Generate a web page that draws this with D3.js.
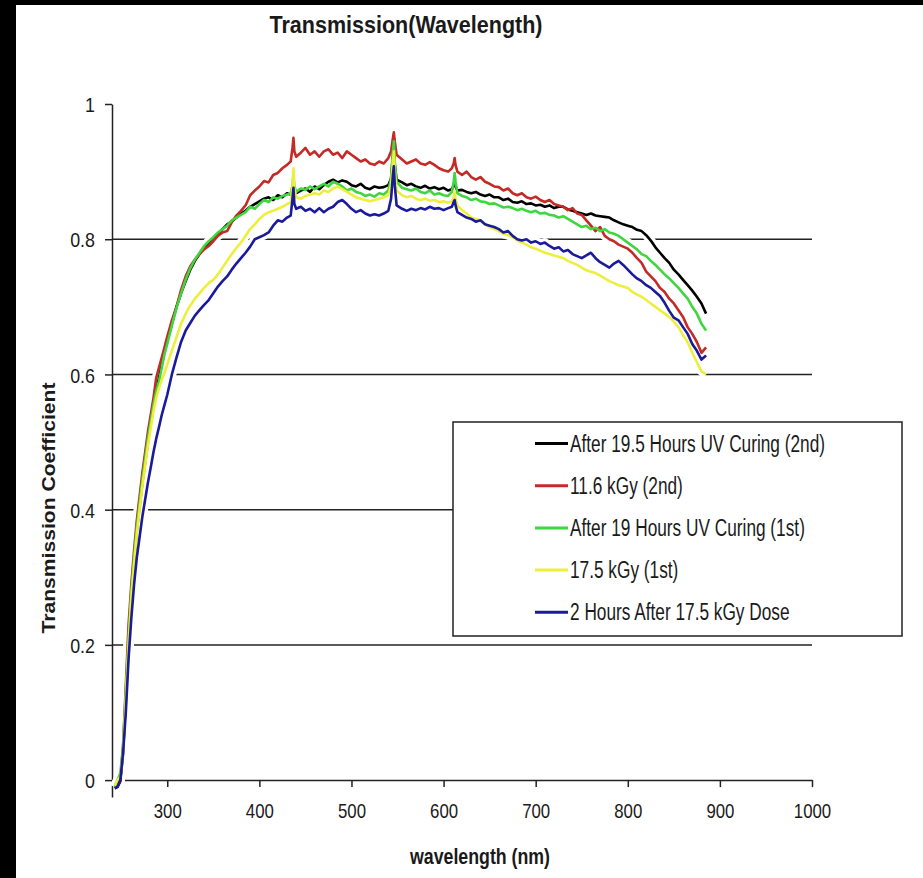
<!DOCTYPE html>
<html>
<head>
<meta charset="utf-8">
<script src="https://cdn.jsdelivr.net/npm/d3@7"></script>
<style>
  body { margin: 0; background: #000; }
  svg { display: block; }
  text { font-family: "Liberation Sans", Arial, sans-serif; fill: #1a1a1a; }
</style>
</head>
<body>
<div id="chart"></div>
<script>
// wavelength grid (nm), shared by every series
var wavelengths = [
  243,246,249,252,255,258,261,264,267,270,273,276,279,282,285,288,291,294,297,300,
  305,310,315,320,325,330,335,340,345,350,355,360,365,370,375,380,385,390,395,400,405,410,415,420,425,430,
  434,436,437,438,440,445,450,455,460,465,470,475,480,485,490,495,500,505,510,515,520,525,530,535,540,
  543,545,546,547,549,555,560,565,570,575,580,585,590,595,600,605,
  609,611,612,613,615,
  620,625,630,635,640,645,650,655,660,665,670,675,680,685,690,695,700,705,710,715,720,725,730,735,740,745,
  750,755,760,765,770,775,780,785,790,795,800,805,810,815,820,825,830,835,840,845,850,855,860,865,870,875,880,885
];

var uvCuring2nd = [
  -0.012,-0.01,-0.002,0.04,0.12,0.2,0.27,0.325,0.37,0.405,0.44,0.47,0.5,0.53,0.555,0.575,0.595,0.615,0.635,0.65,
  0.675,0.7,0.72,0.738,0.755,0.768,0.778,0.787,0.795,0.802,0.808,0.815,0.822,0.826,0.832,0.838,0.842,0.848,0.852,0.856,0.86,0.862,0.858,0.865,0.862,0.868,
  0.866,0.875,0.885,0.872,0.868,0.872,0.875,0.87,0.878,0.874,0.88,0.885,0.888,0.884,0.887,0.885,0.88,0.878,0.882,0.876,0.874,0.878,0.876,0.877,0.88,
  0.89,0.925,0.94,0.91,0.888,0.884,0.88,0.882,0.878,0.876,0.879,0.875,0.877,0.874,0.876,0.872,
  0.874,0.88,0.885,0.878,0.872,
  0.873,0.87,0.868,0.87,0.866,0.864,0.866,0.862,0.862,0.858,0.86,0.855,0.854,0.856,0.852,0.853,0.85,0.851,0.848,0.85,0.846,0.848,0.848,0.844,0.842,0.84,
  0.838,0.836,0.838,0.835,0.834,0.833,0.832,0.828,0.825,0.822,0.82,0.818,0.814,0.812,0.806,0.798,0.788,0.78,0.772,0.765,0.755,0.748,0.74,0.732,0.724,0.715,0.705,0.69
];

var kGy116_2nd = [
  -0.01,-0.008,0.0,0.05,0.14,0.23,0.29,0.34,0.385,0.42,0.455,0.485,0.515,0.54,0.565,0.595,0.61,0.625,0.64,0.656,
  0.68,0.7,0.725,0.745,0.76,0.77,0.778,0.785,0.79,0.797,0.805,0.81,0.812,0.825,0.835,0.842,0.85,0.865,0.872,0.878,0.886,0.884,0.895,0.898,0.905,0.91,
  0.915,0.935,0.95,0.93,0.922,0.928,0.935,0.925,0.93,0.922,0.93,0.933,0.925,0.928,0.92,0.93,0.925,0.92,0.915,0.918,0.912,0.91,0.915,0.912,0.92,
  0.93,0.95,0.958,0.945,0.925,0.918,0.912,0.915,0.918,0.912,0.91,0.914,0.91,0.905,0.902,0.9,
  0.905,0.912,0.92,0.91,0.9,
  0.895,0.9,0.892,0.888,0.892,0.885,0.882,0.878,0.877,0.872,0.875,0.868,0.865,0.868,0.862,0.86,0.863,0.858,0.855,0.858,0.852,0.85,0.848,0.843,0.846,0.838,
  0.836,0.828,0.82,0.812,0.818,0.805,0.8,0.797,0.792,0.789,0.786,0.78,0.772,0.765,0.752,0.745,0.738,0.728,0.722,0.712,0.705,0.695,0.685,0.67,0.66,0.648,0.632,0.64
];

var uvCuring1st = [
  -0.01,0.0,0.01,0.05,0.13,0.21,0.28,0.33,0.375,0.41,0.445,0.475,0.505,0.53,0.555,0.575,0.59,0.61,0.63,0.645,
  0.672,0.698,0.72,0.74,0.757,0.77,0.78,0.79,0.797,0.803,0.81,0.815,0.82,0.828,0.832,0.836,0.84,0.848,0.845,0.852,0.858,0.855,0.862,0.86,0.864,0.866,
  0.868,0.88,0.895,0.878,0.87,0.875,0.873,0.878,0.874,0.878,0.882,0.878,0.885,0.882,0.878,0.872,0.875,0.87,0.868,0.864,0.866,0.863,0.868,0.866,0.872,
  0.89,0.93,0.945,0.915,0.885,0.876,0.874,0.872,0.875,0.87,0.868,0.872,0.866,0.868,0.865,0.864,
  0.87,0.885,0.898,0.885,0.868,
  0.864,0.862,0.858,0.86,0.856,0.855,0.852,0.853,0.85,0.847,0.848,0.846,0.843,0.845,0.842,0.84,0.842,0.838,0.839,0.836,0.835,0.832,0.834,0.83,0.826,0.822,
  0.818,0.82,0.815,0.817,0.812,0.815,0.81,0.808,0.805,0.8,0.795,0.79,0.785,0.778,0.775,0.768,0.762,0.755,0.748,0.742,0.735,0.728,0.72,0.712,0.7,0.69,0.675,0.665
];

var kGy175_1st = [
  -0.008,0.0,0.005,0.04,0.12,0.2,0.27,0.32,0.365,0.4,0.435,0.465,0.495,0.52,0.545,0.565,0.58,0.592,0.602,0.615,
  0.635,0.655,0.675,0.69,0.702,0.712,0.72,0.728,0.735,0.74,0.748,0.758,0.768,0.778,0.787,0.795,0.805,0.815,0.822,0.83,0.836,0.84,0.842,0.845,0.848,0.852,
  0.855,0.88,0.905,0.875,0.862,0.86,0.864,0.866,0.868,0.866,0.872,0.87,0.875,0.878,0.874,0.87,0.866,0.862,0.86,0.858,0.856,0.858,0.86,0.862,0.865,
  0.88,0.915,0.93,0.9,0.872,0.865,0.862,0.864,0.86,0.858,0.86,0.857,0.858,0.855,0.856,0.854,
  0.856,0.862,0.87,0.86,0.85,
  0.843,0.838,0.832,0.83,0.828,0.822,0.818,0.815,0.812,0.808,0.806,0.803,0.798,0.795,0.792,0.788,0.786,0.783,0.78,0.778,0.776,0.774,0.772,0.768,0.765,0.762,
  0.758,0.754,0.752,0.75,0.746,0.742,0.738,0.735,0.732,0.73,0.728,0.722,0.718,0.715,0.71,0.705,0.7,0.695,0.69,0.685,0.678,0.67,0.658,0.648,0.632,0.618,0.605,0.6
];

var after2Hours = [
  -0.012,-0.01,0.0,0.04,0.1,0.18,0.24,0.29,0.33,0.36,0.39,0.415,0.44,0.462,0.485,0.505,0.522,0.54,0.555,0.57,
  0.6,0.625,0.648,0.665,0.676,0.687,0.695,0.703,0.71,0.72,0.73,0.738,0.745,0.755,0.764,0.772,0.78,0.789,0.8,0.803,0.806,0.81,0.82,0.828,0.826,0.832,
  0.835,0.86,0.876,0.852,0.845,0.848,0.842,0.845,0.84,0.846,0.84,0.845,0.848,0.855,0.858,0.852,0.845,0.84,0.843,0.838,0.835,0.837,0.835,0.838,0.842,
  0.86,0.895,0.908,0.88,0.85,0.845,0.842,0.845,0.843,0.846,0.844,0.848,0.845,0.846,0.843,0.846,
  0.848,0.855,0.858,0.85,0.84,
  0.836,0.832,0.83,0.826,0.828,0.822,0.82,0.818,0.815,0.81,0.812,0.805,0.8,0.798,0.8,0.795,0.797,0.793,0.795,0.79,0.786,0.788,0.782,0.784,0.778,0.775,
  0.772,0.776,0.78,0.772,0.766,0.762,0.758,0.764,0.768,0.762,0.755,0.748,0.742,0.738,0.732,0.728,0.722,0.716,0.706,0.694,0.684,0.68,0.67,0.66,0.645,0.635,0.622,0.628
];

var seriesNames = [
  "After 19.5 Hours UV Curing (2nd)",
  "11.6 kGy (2nd)",
  "After 19 Hours UV Curing (1st)",
  "17.5 kGy (1st)",
  "2 Hours After 17.5 kGy Dose"
];
var seriesValues = [uvCuring2nd, kGy116_2nd, uvCuring1st, kGy175_1st, after2Hours];
var colors = ["#000000", "#c42a26", "#3fd63f", "#eeee3c", "#1a1a9c"];

var xTicks = [300, 400, 500, 600, 700, 800, 900, 1000];
var yTicks = [0, 0.2, 0.4, 0.6, 0.8, 1];
var gridValues = [0.2, 0.4, 0.6, 0.8];

var W = 923, H = 878;

var svg = d3.select("#chart").append("svg")
    .attr("width", W)
    .attr("height", H);

// white page with the black strip on top and left
svg.append("rect")
    .attr("x", 16).attr("y", 5)
    .attr("width", W - 16).attr("height", H - 5)
    .attr("fill", "#fff");

var x = d3.scaleLinear().domain([240, 1000]).range([112, 812]);
var y = d3.scaleLinear().domain([-0.025, 1]).range([797, 104]);

// squeeze text horizontally, the picture is narrow
function squeeze(sel, k) {
  sel.each(function() {
    var w = this.getComputedTextLength();
    d3.select(this).attr("textLength", w * k).attr("lengthAdjust", "spacingAndGlyphs");
  });
}

// gridlines
svg.append("g").selectAll("line")
    .data(gridValues)
  .enter().append("line")
    .attr("x1", x(240)).attr("x2", x(1000))
    .attr("y1", function(d) { return y(d); })
    .attr("y2", function(d) { return y(d); })
    .attr("stroke", "#222")
    .attr("stroke-width", 1.5);

// x axis
var xAxis = d3.axisBottom(x).tickValues(xTicks).tickSizeInner(7).tickSizeOuter(0).tickPadding(8)
    .tickFormat(d3.format("d"));
var gx = svg.append("g")
    .attr("transform", "translate(0," + y(0) + ")")
    .call(xAxis);
gx.select(".domain").attr("stroke", "#222").attr("stroke-width", 1.5);
gx.selectAll(".tick line").attr("stroke", "#222").attr("stroke-width", 1.5);
gx.selectAll(".tick text")
    .attr("dy", null).attr("y", 38)
    .style("font-size", "21px").style("font-family", null)
    .attr("fill", "#1a1a1a")
    .call(squeeze, 0.8);

// y axis
var yAxis = d3.axisLeft(y).tickValues(yTicks).tickSizeInner(7).tickSizeOuter(0).tickPadding(10)
    .tickFormat(d3.format("~g"));
var gy = svg.append("g")
    .attr("transform", "translate(" + x(240) + ",0)")
    .call(yAxis);
gy.select(".domain").attr("stroke", "#222").attr("stroke-width", 1.5);
gy.selectAll(".tick line").attr("stroke", "#222").attr("stroke-width", 1.5);
gy.selectAll(".tick text")
    .attr("dy", "0.36em")
    .style("font-size", "21px").style("font-family", null)
    .attr("fill", "#1a1a1a")
    .call(squeeze, 0.85);

// curves
var line = d3.line()
    .x(function(d, i) { return x(wavelengths[i]); })
    .y(function(d) { return y(d); });

var curves = svg.append("g");
seriesValues.forEach(function(vals) {
  curves.append("path")
      .datum(vals)
      .attr("fill", "none")
      .attr("stroke", "#fff")
      .attr("stroke-width", 9)
      .attr("stroke-linejoin", "round")
      .attr("d", line);
});
seriesValues.forEach(function(vals, i) {
  curves.append("path")
      .datum(vals)
      .attr("fill", "none")
      .attr("stroke", colors[i])
      .attr("stroke-width", 2.6)
      .attr("stroke-linejoin", "round")
      .attr("d", line);
});

// legend
var legend = svg.append("g");
legend.append("rect")
    .attr("x", 453).attr("y", 422)
    .attr("width", 449).attr("height", 214)
    .attr("fill", "#fff")
    .attr("stroke", "#222")
    .attr("stroke-width", 1.5);

var rows = legend.selectAll(".row")
    .data(seriesNames)
  .enter().append("g")
    .attr("class", "row")
    .attr("transform", function(d, i) { return "translate(535," + (443.5 + i * 42.2) + ")"; });
rows.append("line")
    .attr("x1", 0).attr("x2", 33)
    .attr("stroke", function(d, i) { return colors[i]; })
    .attr("stroke-width", 3);
rows.append("text")
    .attr("x", 35).attr("y", 8)
    .style("font-size", "23px")
    .text(function(d) { return d; })
    .call(squeeze, 0.75);

// titles
svg.append("text")
    .attr("x", 406).attr("y", 33)
    .attr("text-anchor", "middle")
    .style("font-size", "24px").style("font-weight", "bold")
    .attr("textLength", 273).attr("lengthAdjust", "spacingAndGlyphs")
    .text("Transmission(Wavelength)");

svg.append("text")
    .attr("transform", "translate(55,508) rotate(-90)")
    .attr("text-anchor", "middle")
    .style("font-size", "18px").style("font-weight", "bold")
    .attr("textLength", 251).attr("lengthAdjust", "spacingAndGlyphs")
    .text("Transmission Coefficient");

svg.append("text")
    .attr("x", 480).attr("y", 864)
    .attr("text-anchor", "middle")
    .style("font-size", "22px").style("font-weight", "bold")
    .attr("textLength", 140).attr("lengthAdjust", "spacingAndGlyphs")
    .text("wavelength (nm)");
</script>
</body>
</html>
